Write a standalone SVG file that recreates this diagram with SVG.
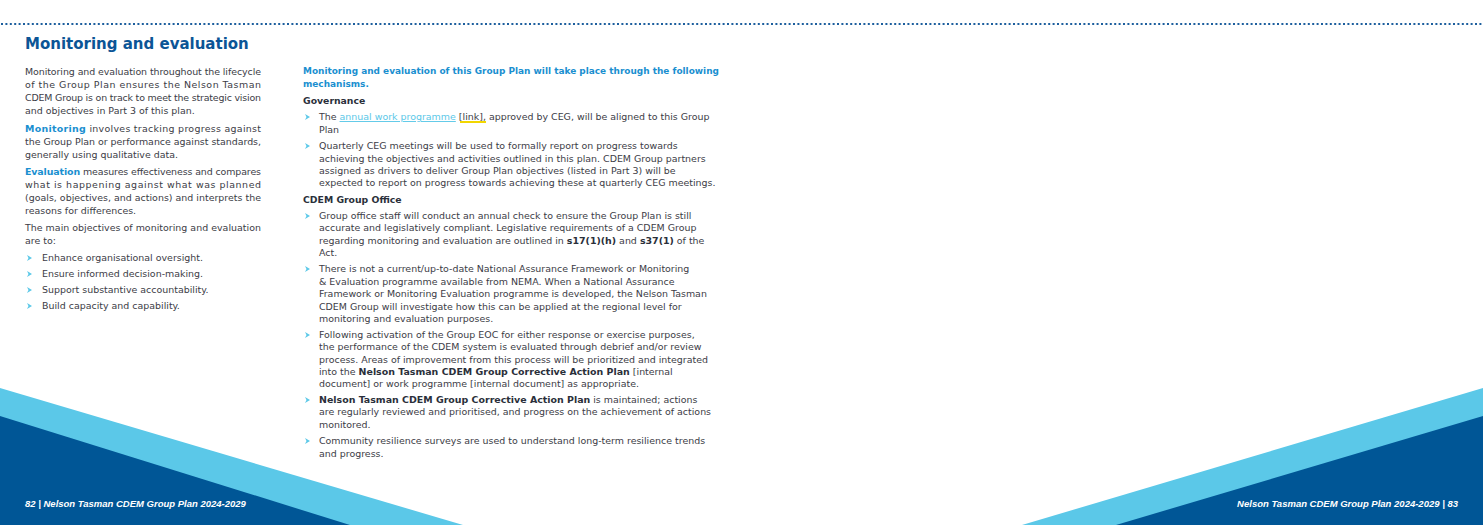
<svg xmlns="http://www.w3.org/2000/svg" width="1483" height="525" viewBox="0 0 1483 525">
<style>
.t{font-family:"DejaVu Sans",Verdana,sans-serif;font-size:9.45px;fill:#3c3c46}
.b{font-weight:bold;fill:#2a2f3a}
.bl{font-weight:bold;fill:#1a8fd0}
.hb{font-size:8.95px}
.h{font-family:"DejaVu Sans",Verdana,sans-serif;font-size:9.3px;font-weight:bold;fill:#2a2f3a}
.lk{fill:#5bc8e8;text-decoration:underline}
.ft{font-family:"Liberation Sans",Arial,sans-serif;font-size:9.5px;font-weight:bold;font-style:italic;fill:#fff}
</style>
<defs>
<path id="ar" d="M0,-3 L5,0 L0,3 L1.5,0 Z" fill="#5bc8e8"/>
</defs>
<rect width="1483" height="525" fill="#fff"/>
<line x1="1" y1="24" x2="1483" y2="24" stroke="#1d5f9e" stroke-width="2" stroke-dasharray="2,2.4"/>
<g id="decor">
<polygon points="0,388 463,525 0,525" fill="#5bc8e8"/>
<polygon points="0,416 350,525 0,525" fill="#005696"/>
<polygon points="1483,388 1022,525 1483,525" fill="#5bc8e8"/>
<polygon points="1483,416 1116,525 1483,525" fill="#005696"/>
</g>
<text x="25" y="49" style="font-family:'DejaVu Sans',Verdana,sans-serif;font-size:15px;font-weight:bold;fill:#0b5596">Monitoring and evaluation</text>
<g id="left" class="t">
<text class="t" x="25" y="75" textLength="236" lengthAdjust="spacing">Monitoring and evaluation throughout the lifecycle</text>
<text class="t" x="25" y="88" textLength="236" lengthAdjust="spacing">of the Group Plan ensures the  Nelson Tasman</text>
<text class="t" x="25" y="101" textLength="236" lengthAdjust="spacing">CDEM Group is on track to meet the strategic vision</text>
<text class="t" x="25" y="114">and objectives in Part 3 of this plan.</text>
<text class="t" x="25" y="132" textLength="236" lengthAdjust="spacing"><tspan class="bl">Monitoring</tspan> involves tracking progress against</text>
<text class="t" x="25" y="145" textLength="236" lengthAdjust="spacing">the Group Plan or performance against standards,</text>
<text class="t" x="25" y="158">generally using qualitative data.</text>
<text class="t" x="25" y="175" textLength="236" lengthAdjust="spacing"><tspan class="bl">Evaluation</tspan> measures effectiveness and compares</text>
<text class="t" x="25" y="188" textLength="236" lengthAdjust="spacing">what is happening against what was planned</text>
<text class="t" x="25" y="201" textLength="236" lengthAdjust="spacing">(goals, objectives, and actions) and interprets the</text>
<text class="t" x="25" y="214">reasons for differences.</text>
<text class="t" x="25" y="231" textLength="236" lengthAdjust="spacing">The main objectives of monitoring and evaluation</text>
<text class="t" x="25" y="244">are to:</text>
<use href="#ar" x="27" y="258"/><text class="t" x="42" y="261">Enhance organisational oversight.</text>
<use href="#ar" x="27" y="274"/><text class="t" x="42" y="277">Ensure informed decision-making.</text>
<use href="#ar" x="27" y="290"/><text class="t" x="42" y="293">Support substantive accountability.</text>
<use href="#ar" x="27" y="306"/><text class="t" x="42" y="309">Build capacity and capability.</text>
</g>
<g id="right">
<text class="t bl hb" x="303" y="74">Monitoring and evaluation of this Group Plan will take place through the following</text>
<text class="t bl hb" x="303" y="87">mechanisms.</text>
<text class="h" x="303" y="104">Governance</text>
<use href="#ar" x="305" y="117"/>
<text class="t" x="319" y="120">The <tspan class="lk">annual work programme</tspan> [link], approved by CEG, will be aligned to this Group</text>
<line x1="460" y1="122" x2="486" y2="122" stroke="#f2d600" stroke-width="2"/>
<text class="t" x="319" y="133">Plan</text>
<use href="#ar" x="305" y="146"/>
<text class="t" x="319" y="149">Quarterly CEG meetings will be used to formally report on progress towards</text>
<text class="t" x="319" y="162">achieving the objectives and activities outlined in this plan. CDEM Group partners</text>
<text class="t" x="319" y="174">assigned as drivers to deliver Group Plan objectives (listed in Part 3) will be</text>
<text class="t" x="319" y="186">expected to report on progress towards achieving these at quarterly CEG meetings.</text>
<text class="h" x="303" y="203">CDEM Group Office</text>
<use href="#ar" x="305" y="216"/>
<text class="t" x="319" y="219">Group office staff will conduct an annual check to ensure the Group Plan is still</text>
<text class="t" x="319" y="231">accurate and legislatively compliant. Legislative requirements of a CDEM Group</text>
<text class="t" x="319" y="244">regarding monitoring and evaluation are outlined in <tspan class="b">s17(1)(h)</tspan> and <tspan class="b">s37(1)</tspan> of the</text>
<text class="t" x="319" y="256">Act.</text>
<use href="#ar" x="305" y="269"/>
<text class="t" x="319" y="272">There is not a current/up-to-date National Assurance Framework or Monitoring</text>
<text class="t" x="319" y="285">&amp; Evaluation programme available from NEMA. When a National Assurance</text>
<text class="t" x="319" y="297">Framework or Monitoring Evaluation programme is developed, the Nelson Tasman</text>
<text class="t" x="319" y="310">CDEM Group will investigate how this can be applied at the regional level for</text>
<text class="t" x="319" y="322">monitoring and evaluation purposes.</text>
<use href="#ar" x="305" y="335"/>
<text class="t" x="319" y="338">Following activation of the Group EOC for either response or exercise purposes,</text>
<text class="t" x="319" y="350">the performance of the CDEM system is evaluated through debrief and/or review</text>
<text class="t" x="319" y="363">process. Areas of improvement from this process will be prioritized and integrated</text>
<text class="t" x="319" y="375">into the <tspan class="b">Nelson Tasman CDEM Group Corrective Action Plan</tspan> [internal</text>
<text class="t" x="319" y="387">document] or work programme [internal document] as appropriate.</text>
<use href="#ar" x="305" y="400"/>
<text class="t" x="319" y="403"><tspan class="b">Nelson Tasman CDEM Group Corrective Action Plan</tspan> is maintained; actions</text>
<text class="t" x="319" y="415">are regularly reviewed and prioritised, and progress on the achievement of actions</text>
<text class="t" x="319" y="428">monitored.</text>
<use href="#ar" x="305" y="441"/>
<text class="t" x="319" y="444">Community resilience surveys are used to understand long-term resilience trends</text>
<text class="t" x="319" y="457">and progress.</text>
</g>
<text class="ft" x="25" y="507">82 | Nelson Tasman CDEM Group Plan 2024-2029</text>
<text class="ft" x="1458" y="507" text-anchor="end">Nelson Tasman CDEM Group Plan 2024-2029 | 83</text>
</svg>
